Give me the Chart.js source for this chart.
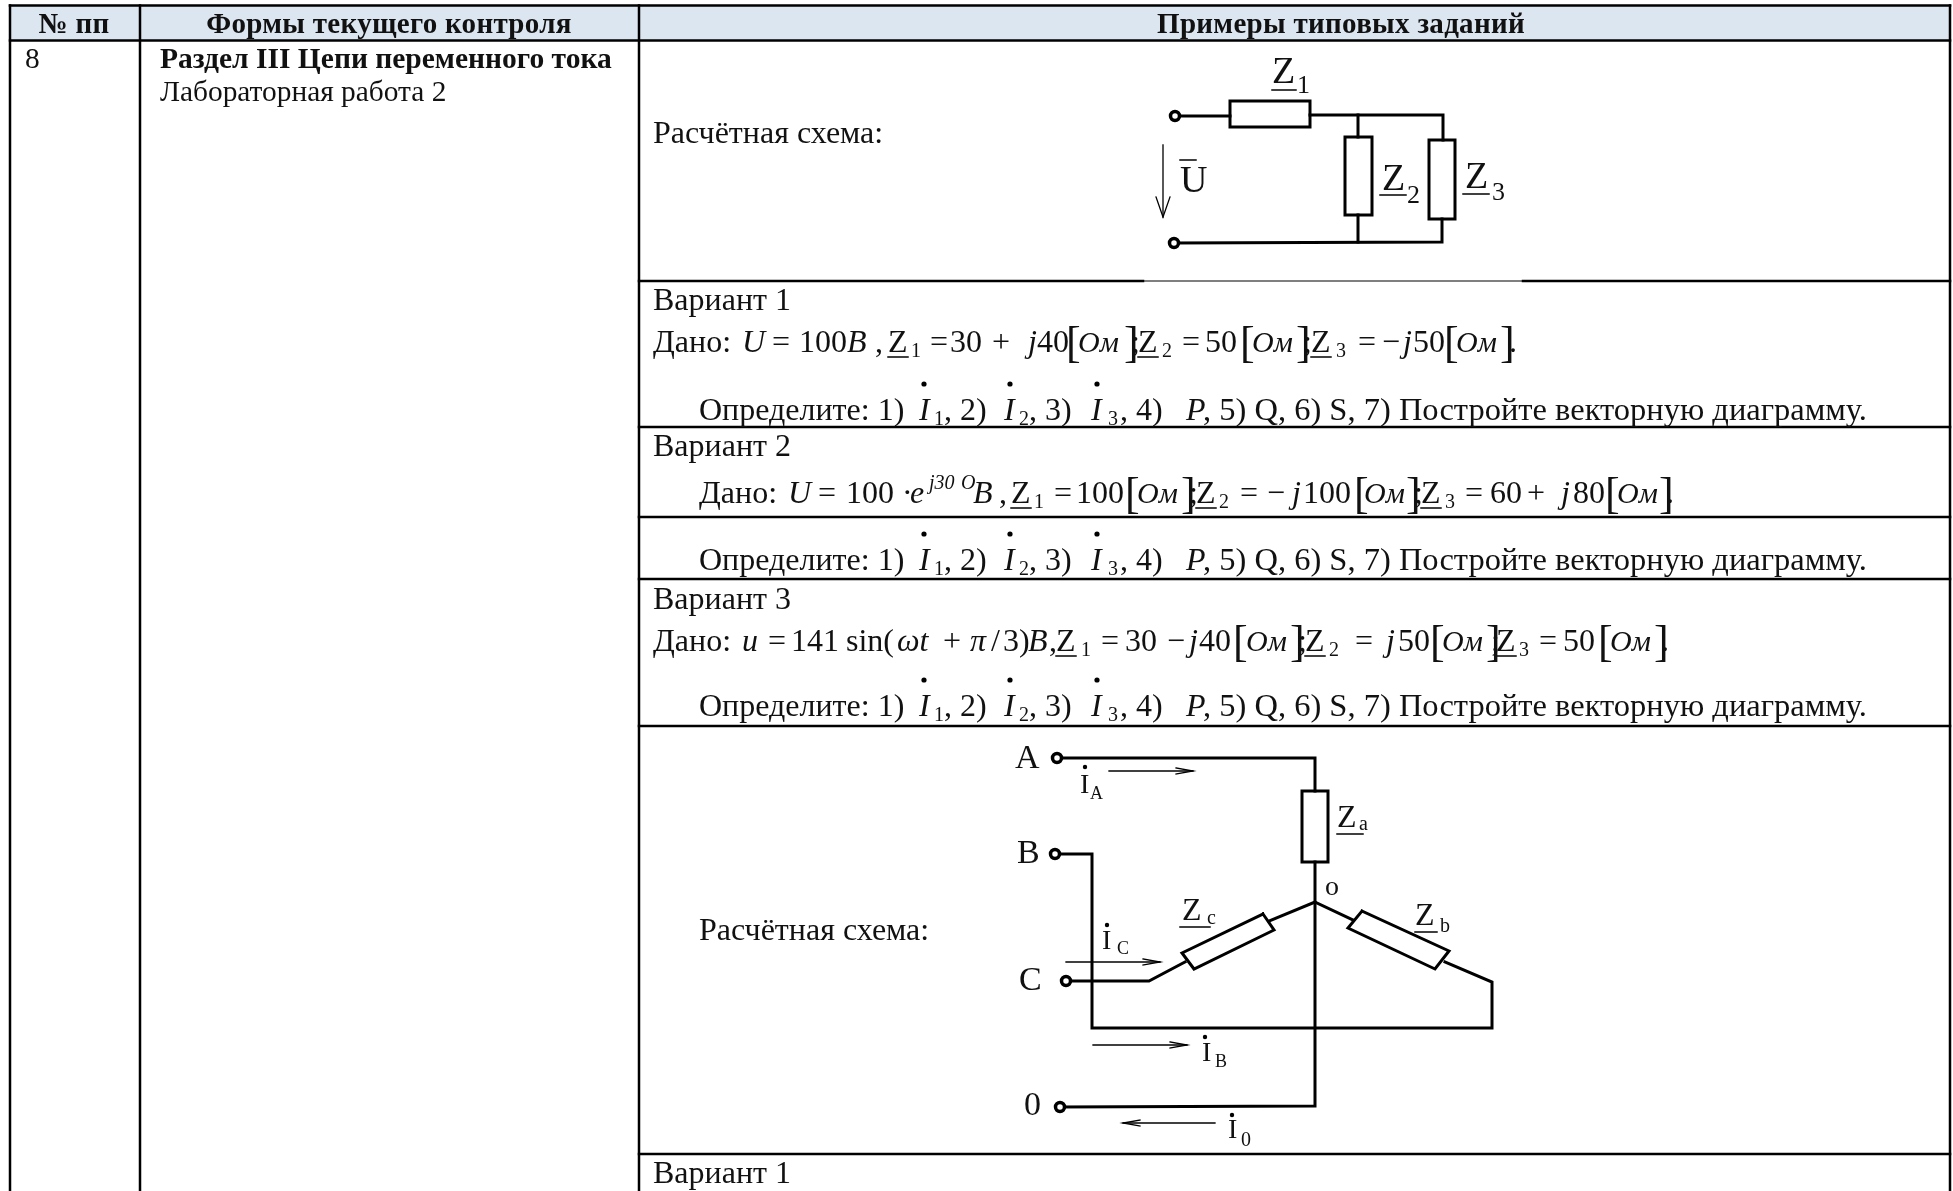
<!DOCTYPE html>
<html lang="ru"><head><meta charset="utf-8">
<style>html,body{margin:0;padding:0;background:#fff}#w{position:absolute;left:0;top:0;width:1953px;height:1191px}</style>
<script src="https://cdn.jsdelivr.net/npm/chart.js@4"></script></head>
<body><div id="w"><canvas id="c" width="1953" height="1191"></canvas></div>
<script>
const headerBand=[[10,23],[1950,23]];
const gridHeavy=[
[[10,5.5],[1950,5.5]],[[10,40.5],[1950,40.5]],[[10,5.5],[10,1191]],[[140,5.5],[140,1191]],[[639,5.5],[639,1191]],[[1950,5.5],[1950,1191]],
[[639,281],[1143,281]],[[1523,281],[1950,281]],[[639,427],[1950,427]],[[639,517],[1950,517]],[[639,579],[1950,579]],[[639,726],[1950,726]],[[639,1154],[1950,1154]]];
const gridThin=[[[1143,281],[1523,281]]];
const wires=[
[[1175,116],[1230,116]],[[1230,101],[1310,101],[1310,127],[1230,127],[1230,101]],[[1310,115],[1443,115],[1443,140]],
[[1358,115],[1358,137]],[[1345,137],[1372,137],[1372,215],[1345,215],[1345,137]],[[1358,215],[1358,242]],
[[1429,140],[1455,140],[1455,219],[1429,219],[1429,140]],[[1442,219],[1442,242],[1174,243]],
[[1057,758],[1315,758],[1315,791]],[[1302,791],[1328,791],[1328,862],[1302,862],[1302,791]],[[1315,862],[1315,1106],[1060,1107]],
[[1055,854],[1092,854],[1092,1028],[1492,1028],[1492,982],[1445,962]],
[[1362,911],[1449,951],[1435,969],[1348,928],[1362,911]],[[1315,902],[1353,920]],
[[1263,914],[1274,930],[1194,969],[1182,953],[1263,914]],[[1315,902],[1269,921]],[[1185,962],[1149,981],[1066,981]]];
const arrows=[
[[1163,145],[1163,217]],[[1156,197],[1163,217],[1170,197]],
[[1109,771],[1193,771]],[[1176,768],[1193,771],[1176,774]],
[[1066,962],[1160,962]],[[1143,959],[1160,962],[1143,965]],
[[1093,1045],[1187,1045]],[[1170,1042],[1187,1045],[1170,1048]],
[[1215,1123],[1123,1123]],[[1140,1120],[1123,1123],[1140,1126]]];
const terminals=[[1175,116],[1174,243],[1057,758],[1055,854],[1066,981],[1060,1107]];
const headerCols=[[74,'№ пп'],[389,'Формы текущего контроля'],[1341,'Примеры типовых заданий']];
const bodyText=[[25,68,'8','l'],[160,68,'Раздел III Цепи переменного тока','b'],[160,101,'Лабораторная работа 2','l'],
[653,143,'Расчётная схема:','r'],[653,310,'Вариант 1','r'],[653,456,'Вариант 2','r'],[653,609,'Вариант 3','r'],[699,940,'Расчётная схема:','r'],[653,1183,'Вариант 1','r']];
const given1=[[653,'Дано:','r'],[742,'U','i'],[772,'=','r'],[799,'100','r'],[847,'B','i'],[875,',','r'],[888,'Z','z'],[911,'1','s'],[930,'=','r'],[950,'30','r'],[992,'+','r'],[1028,'j','i'],[1037,'40','r'],[1066,'[','k'],[1078,'Ом','o'],[1124,']','k'],[1131,';','r'],[1138,'Z','z'],[1162,'2','s'],[1182,'=','r'],[1205,'50','r'],[1240,'[','k'],[1252,'Ом','o'],[1296,']','k'],[1303,';','r'],[1311,'Z','z'],[1336,'3','s'],[1358,'=','r'],[1382,'−','r'],[1403,'j','i'],[1413,'50','r'],[1444,'[','k'],[1456,'Ом','o'],[1500,']','k'],[1509,'.','r']];
const given2=[[699,'Дано:','r'],[788,'U','i'],[818,'=','r'],[846,'100','r'],[902,'·','r'],[910,'e','i'],[929,'j30','u'],[961,'O','u'],[973,'B','i'],[999,',','r'],[1011,'Z','z'],[1034,'1','s'],[1054,'=','r'],[1076,'100','r'],[1125,'[','k'],[1137,'Ом','o'],[1181,']','k'],[1189,';','r'],[1196,'Z','z'],[1219,'2','s'],[1240,'=','r'],[1267,'−','r'],[1292,'j','i'],[1303,'100','r'],[1354,'[','k'],[1364,'Ом','o'],[1406,']','k'],[1414,';','r'],[1421,'Z','z'],[1445,'3','s'],[1465,'=','r'],[1490,'60','r'],[1527,'+','r'],[1561,'j','i'],[1573,'80','r'],[1605,'[','k'],[1617,'Ом','o'],[1659,']','k'],[1666,'.','r']];
const given3=[[653,'Дано:','r'],[742,'u','i'],[768,'=','r'],[791,'141','r'],[846,'sin(','r'],[897,'ωt','i'],[943,'+','r'],[970,'π','i'],[991,'/','r'],[1003,'3)','r'],[1028,'B','i'],[1049,',','r'],[1056,'Z','z'],[1081,'1','s'],[1101,'=','r'],[1125,'30','r'],[1167,'−','r'],[1189,'j','i'],[1199,'40','r'],[1233,'[','k'],[1246,'Ом','o'],[1290,']','k'],[1298,';','r'],[1305,'Z','z'],[1329,'2','s'],[1355,'=','r'],[1386,'j','i'],[1398,'50','r'],[1430,'[','k'],[1442,'Ом','o'],[1486,']','k'],[1491,';','r'],[1496,'Z','z'],[1519,'3','s'],[1539,'=','r'],[1563,'50','r'],[1598,'[','k'],[1610,'Ом','o'],[1654,']','k'],[1661,'.','r']];
const ask=[[699,'Определите: 1)','r'],[919,'I','i'],[934,'1','s'],[944,', 2)','r'],[1004,'I','i'],[1019,'2','s'],[1029,', 3)','r'],[1091,'I','i'],[1108,'3','s'],[1120,', 4)','r'],[1186,'P','i'],[1203,', 5) Q, 6) S, 7) Постройте векторную диаграмму.','t']];
const givenRows=[[352,given1],[503,given2],[651,given3]];
const askRows=[420,570,716];
const dotsX=[924,1010,1097];
const schemeText=[
[1272,83,'Z','c38'],[1297,93,'1','c26'],[1180,192,'U','c38'],[1382,190,'Z','c38'],[1407,203,'2','c26'],[1465,188,'Z','c38'],[1492,200,'3','c26'],
[1015,768,'A','c34'],[1017,863,'B','c34'],[1019,990,'C','c34'],[1024,1115,'0','c34'],[1325,895,'o','c28'],
[1080,793,'I','c28'],[1090,799,'A','c18'],[1337,827,'Z','c32'],[1359,830,'a','c20'],[1182,920,'Z','c32'],[1207,924,'c','c20'],[1415,925,'Z','c32'],[1440,932,'b','c20'],
[1102,949,'I','c28'],[1117,954,'C','c18'],[1202,1061,'I','c28'],[1215,1067,'B','c18'],[1228,1138,'I','c28'],[1241,1146,'0','c20']];
const schemeUnderlines=[[[1272,90],[1296,90]],[[1380,195],[1406,195]],[[1463,194],[1489,194]],[[1337,834],[1363,834]],[[1180,927],[1210,927]],[[1415,932],[1437,932]],[[1180,160],[1196,160]]];
const schemeDots=[[1085,767],[1107,925],[1205,1037],[1232,1115]];

const FF='"Liberation Serif","Times New Roman",serif';
const styles={l:'29.4px '+FF,r:'32px '+FF,t:'32.5px '+FF,b:'bold 29.5px '+FF,h:'bold 29px '+FF,i:'italic 32px '+FF,s:'20px '+FF,z:'32px '+FF,k:'44px '+FF,u:'italic 20px '+FF,o:'italic 30px '+FF};
const texts=[];
bodyText.forEach(t=>texts.push(t));
givenRows.forEach(([y,runs])=>runs.forEach(([x,t,s])=>texts.push([x,s==='s'?y+5:s==='u'?y-14:s==='k'?y+5:y,t,s])));
askRows.forEach(y=>ask.forEach(([x,t,s])=>texts.push([x,s==='s'?y+5:y,t,s])));
schemeText.forEach(t=>texts.push(t));
const zUnder=[];
givenRows.forEach(([y,runs])=>runs.forEach(([x,t,s])=>{if(s==='z')zUnder.push([[x,y+5],[x+20,y+5]]);}));
const askDots=[];
askRows.forEach(y=>dotsX.forEach(x=>askDots.push([x,y-36])));

const pts=a=>a.map(([x,y])=>({x,y}));
const lineDs=(paths,w,color='#000')=>paths.map(p=>({type:'line',data:pts(p),borderColor:color,borderWidth:w,pointRadius:0,fill:false,tension:0,borderCapStyle:'square',borderJoinStyle:'miter',order:1}));
const datasets=[
 {type:'line',data:pts(headerBand),borderColor:'#DCE6F1',borderWidth:34,pointRadius:0,borderCapStyle:'butt',order:5},
 ...lineDs(gridHeavy,2.5),...lineDs(gridThin,1.2),...lineDs(wires,3),...lineDs(arrows,1.3),
 ...lineDs(zUnder,1.5),...lineDs(schemeUnderlines,1.5),
 {type:'scatter',data:pts(askDots),pointRadius:2.6,pointBackgroundColor:'#000',pointBorderWidth:0,order:0},
 {type:'scatter',data:pts(schemeDots),pointRadius:2.2,pointBackgroundColor:'#000',pointBorderWidth:0,order:0},
 {type:'scatter',data:pts(terminals),pointRadius:4.5,pointBackgroundColor:'#fff',pointBorderColor:'#000',pointBorderWidth:3.5,order:0}
];
const textPlugin={id:'texts',afterDatasetsDraw(ch){
 const {ctx,scales:{x:sx,y:sy}}=ch;ctx.save();ctx.fillStyle='#111';ctx.textBaseline='alphabetic';
 ctx.textAlign='center';ctx.font=styles.h;ctx.letterSpacing='0.3px';
 headerCols.forEach(([x,t])=>ctx.fillText(t,sx.getPixelForValue(x),sy.getPixelForValue(33)));
 ctx.letterSpacing='0px';ctx.textAlign='left';
 texts.forEach(([x,y,t,s])=>{ctx.font=s[0]==='c'&&s.length>1?s.slice(1)+'px '+FF:styles[s];ctx.fillText(t,sx.getPixelForValue(x),sy.getPixelForValue(y));});
 ctx.restore();}};
new Chart(document.getElementById('c'),{type:'scatter',data:{datasets},plugins:[textPlugin],options:{responsive:false,animation:false,events:[],layout:{padding:0,autoPadding:false},
 plugins:{legend:{display:false},tooltip:{enabled:false},title:{display:false}},
 scales:{x:{type:'linear',min:0,max:1953,display:false},y:{type:'linear',min:0,max:1191,reverse:true,display:false}}}});
</script></body></html>
